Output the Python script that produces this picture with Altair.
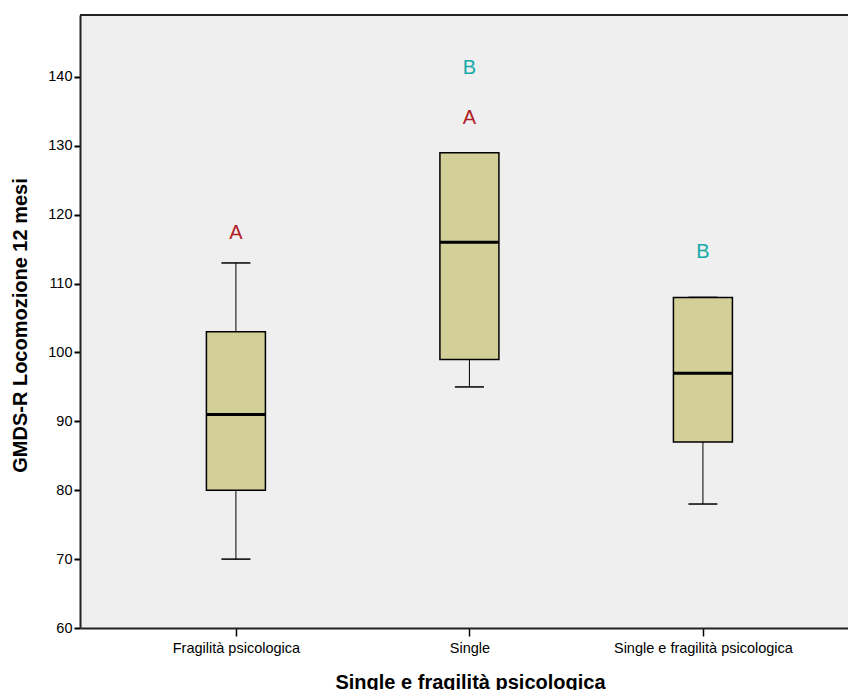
import altair as alt
import pandas as pd

# Box-plot summaries per group
groups = ["Fragilità psicologica", "Single", "Single e fragilità psicologica"]
mins = [70, 95, 78]
q1s = [80, 99, 87]
medians = [91, 116, 97]
q3s = [103, 129, 108]
maxs = [113, 129, 108]

# Significance letters drawn above the boxes
letter_group = ["Fragilità psicologica", "Single", "Single", "Single e fragilità psicologica"]
letter_text = ["A", "A", "B", "B"]
letter_y = [117.4, 134.1, 141.3, 114.6]
letter_color = ["#b01e26", "#b01e26", "#16a9a9", "#16a9a9"]

FONT = "Liberation Sans"
W, H = 768, 613

box = pd.DataFrame({"g": groups, "lo": mins, "q1": q1s, "med": medians, "q3": q3s, "hi": maxs})
letters = pd.DataFrame({"g": letter_group, "t": letter_text, "y": letter_y, "c": letter_color})

x_enc = alt.X(
    "g:N",
    sort=groups,
    scale=alt.Scale(type="point", padding=0.6445, align=0.518),
    axis=alt.Axis(
        title="Single e fragilità psicologica",
        labelAngle=0,
        labelFontSize=14.5,
        labelFont=FONT,
        labelColor="#000000",
        labelPadding=5,
        tickSize=8,
        tickColor="#000000",
        tickWidth=1.5,
        domainColor="#222222",
        domainWidth=2,
        titleFont=FONT,
        titleFontSize=20,
        titleFontWeight="bold",
        titleColor="#000000",
        titleX=390,
        titleY=60,
        titleBaseline="alphabetic",
        titleAlign="center",
    ),
)
y_scale = alt.Scale(domain=[60, 149], nice=False, zero=False)
y_axis = alt.Axis(
    title="GMDS-R Locomozione 12 mesi",
    values=[60, 70, 80, 90, 100, 110, 120, 130, 140],
    grid=False,
    labelFontSize=14.5,
    labelFont=FONT,
    labelColor="#000000",
    labelPadding=2,
    tickSize=6,
    tickColor="#000000",
    tickWidth=2,
    domainColor="#222222",
    domainWidth=2,
    titleFont=FONT,
    titleFontSize=20,
    titleFontWeight="bold",
    titleColor="#000000",
    titleAngle=-90,
    titleX=-60,
    titleY=310,
    titleAlign="center",
    titleBaseline="middle",
)

base = alt.Chart(box)

whisk_lo = base.mark_rule(color="#000000", strokeWidth=1).encode(
    x=x_enc, y=alt.Y("lo:Q", scale=y_scale, axis=y_axis), y2="q1:Q"
)
whisk_hi = base.mark_rule(color="#000000", strokeWidth=1).encode(
    x="g:N", y="q3:Q", y2="hi:Q"
)
cap_lo = base.mark_tick(color="#000000", opacity=1, size=29, thickness=1.5, orient="horizontal").encode(
    x="g:N", y="lo:Q"
)
cap_hi = base.mark_tick(color="#000000", opacity=1, size=29, thickness=1.5, orient="horizontal").encode(
    x="g:N", y="hi:Q"
)
boxes = base.mark_bar(size=59, fill="#d3cf98", opacity=1, stroke="#000000", strokeWidth=1.5).encode(
    x="g:N", y="q1:Q", y2="q3:Q"
)
med = base.mark_tick(color="#000000", opacity=1, size=59, thickness=3, orient="horizontal").encode(
    x="g:N", y="med:Q"
)
text = alt.Chart(letters).mark_text(
    font=FONT, fontSize=20, baseline="middle", align="center"
).encode(x="g:N", y="y:Q", text="t:N", color=alt.Color("c:N", scale=None))

top_border = base.mark_rule(color="#222222", strokeWidth=2).encode(
    x=alt.value(0), x2=alt.value(W), y=alt.value(0)
)

chart = (
    alt.layer(whisk_lo, whisk_hi, cap_lo, cap_hi, boxes, med, text, top_border)
    .properties(
        width=W,
        height=H,
        autosize=alt.AutoSizeParams(type="none"),
        padding={"left": 80, "top": 15, "right": 0, "bottom": 62},
        background="#ffffff",
    )
    .configure_view(fill="#efefef", stroke=None)
)

chart.save("out.html", embed_options={"renderer": "svg", "actions": False})
